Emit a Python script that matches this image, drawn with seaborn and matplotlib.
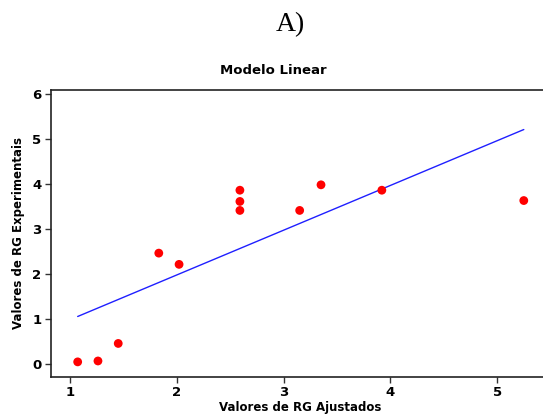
import matplotlib
matplotlib.use("Agg")
import matplotlib.pyplot as plt
import seaborn as sns
import pandas as pd

ajustados = [1.07, 1.26, 1.45, 1.83, 2.02, 2.59, 2.59, 2.59, 3.15, 3.35, 3.92, 5.25]
experimentais = [0.05, 0.07, 0.46, 2.47, 2.22, 3.87, 3.62, 3.42, 3.42, 3.99, 3.87, 3.64]
linha_x = [1.07, 5.25]
linha_y = [1.06, 5.22]
xticks = [1, 2, 3, 4, 5]
yticks = [0, 1, 2, 3, 4, 5, 6]

sns.set_theme(style="ticks")
plt.rcParams['font.family'] = ['DejaVu Sans']
plt.rcParams['text.color'] = 'black'
plt.rcParams['xtick.color'] = '#333333'
plt.rcParams['ytick.color'] = '#333333'
plt.rcParams['xtick.labelcolor'] = 'black'
plt.rcParams['ytick.labelcolor'] = 'black'

df = pd.DataFrame({"x": ajustados, "y": experimentais})
dl = pd.DataFrame({"x": linha_x, "y": linha_y})

fig = plt.figure(figsize=(5.43, 4.19), dpi=100)
ax = fig.add_axes([51/543, 1-376.7/419, 1-51/543, (376.7-90)/419])

sns.lineplot(data=dl, x="x", y="y", ax=ax, color="#1f1fff", linewidth=1.0)
sns.scatterplot(data=df, x="x", y="y", ax=ax, color="#ff0000", s=40, edgecolor="none", zorder=3)

ax.set_xlim(0.82, 5.43)
ax.set_ylim(-0.28, 6.1)
ax.set_xticks(xticks)
ax.set_yticks(yticks)
ax.set_xticklabels([str(t) for t in xticks], fontweight="bold", fontsize=9.5)
ax.set_yticklabels([str(t) for t in yticks], fontweight="bold", fontsize=9.5)
ax.set_xlabel("")
ax.set_ylabel("")
ax.tick_params(axis="both", direction="out", length=4, width=1, pad=3)
ax.spines["right"].set_visible(False)
for s in ["left", "bottom", "top"]:
    ax.spines[s].set_visible(True)
    ax.spines[s].set_color("#222222")
    ax.spines[s].set_linewidth(1.2)

fig.text(290/543, 1-25/419, "A)", ha="center", va="center", fontsize=20,
         family=["Liberation Serif"])
fig.text(273/543, 1-71/419, "Modelo Linear", ha="center", va="center",
         fontsize=9.5, fontweight="bold")
fig.text(300/543, 1-407/419, "Valores de RG Ajustados", ha="center", va="center",
         fontsize=8.5, fontweight="bold")
fig.text(19/543, 1-233/419, "Valores de RG Experimentais", ha="center", va="center",
         fontsize=8.5, fontweight="bold", rotation=90)

fig.savefig("out.png", dpi=100)
